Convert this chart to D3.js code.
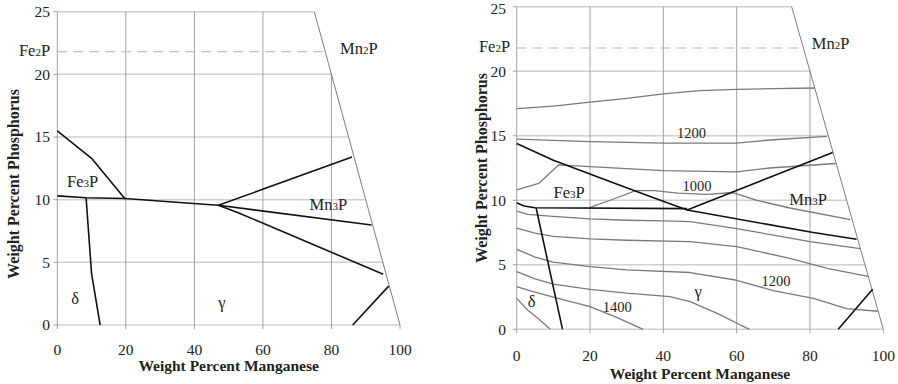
<!DOCTYPE html>
<html>
<head>
<meta charset="utf-8">
<script src="https://cdnjs.cloudflare.com/ajax/libs/d3/7.8.5/d3.min.js"></script>
<style>
  body { margin: 0; background: #fff; }
  svg { display: block; }
  text { font-family: "Liberation Serif", "DejaVu Serif", "Times New Roman", serif; }
  .grid-h { stroke: #d0d0d0; stroke-width: 1.5; fill: none; }
  .grid-v { stroke: #8a8a8a; stroke-width: 0.8; fill: none; }
  .edge { stroke: #6e6e6e; stroke-width: 0.9; fill: none; }
  .tick { stroke: #8a8a8a; stroke-width: 0.8; }
  .fe2p { stroke: #b4b4b4; stroke-width: 1.1; stroke-dasharray: 10 6; fill: none; }
  .phase { stroke: #111; stroke-width: 1.6; fill: none; stroke-linejoin: round; }
  .iso { stroke: #7a7a7a; stroke-width: 1.3; fill: none; stroke-linejoin: round; }
  .tick-label { font-size: 15.5px; fill: #222; }
  .title { font-size: 15.5px; font-weight: bold; fill: #222; }
  .label { font-size: 16.5px; fill: #222; }
  .iso-label { font-size: 14.5px; fill: #222; }
</style>
</head>
<body>
<svg id="chart" width="898" height="384"></svg>
<script>
// axes (weight % Mn across, weight % P up), Mn + P can not pass 100
var mnTicks = [0, 20, 40, 60, 80, 100];
var pTicks = [0, 5, 10, 15, 20, 25];
var fe2pLevel = 21.8;

// left panel: phase boundaries as [Mn, P]
var leftFe3pLine = [[0, 15.5], [10, 13.3], [19.8, 10.05]];
var leftEutectic = [[0, 10.3], [8.4, 10.15], [19.8, 10.1], [39.7, 9.7], [47, 9.55]];
var leftUpperArm = [[47, 9.55], [86, 13.4]];
var leftMn3pArm = [[47, 9.55], [91.7, 7.98]];
var leftLowerArm = [[47, 9.55], [52.8, 8.96], [95.1, 4.05]];
var leftDeltaLine = [[8.4, 10.15], [10, 4.1], [12.5, 0]];
var leftCornerLine = [[86.2, 0], [96.7, 3.1]];

// right panel: same boundaries, slightly different reading
var rightFe3pLine = [[0, 14.4], [10, 13.1], [25.4, 11.45], [36.4, 10.3], [46.5, 9.25]];
var rightEutectic = [[0, 9.8], [2, 9.55], [5, 9.42], [46.5, 9.35]];
var rightUpperArm = [[46.5, 9.25], [86.2, 13.7]];
var rightMn3pArm = [[46.5, 9.25], [80.9, 7.5], [92.7, 6.98]];
var rightDeltaLine = [[5.3, 9.4], [12.5, 0]];
var rightCornerLine = [[87.7, 0], [97.1, 3.1]];

// right panel: isotherms
var iso1 = [[0, 17.1], [10, 17.3], [20, 17.6], [30, 17.9], [40, 18.25], [50, 18.5], [60, 18.6], [70, 18.65], [81.3, 18.7]];
var iso2 = [[0, 14.73], [20, 14.55], [40, 14.42], [60, 14.42], [69, 14.67], [84.6, 14.95]];
var iso3 = [[0, 10.8], [6, 11.3], [11.5, 12.75], [20, 12.6], [40, 12.3], [60, 12.2], [69, 12.5], [87, 12.85]];
var iso4 = [[20, 9.45], [25.5, 10.0], [32.5, 10.75], [37.5, 10.75], [44, 10.55], [52, 10.45], [59, 10.6], [65.5, 10.0], [74.5, 9.4], [91, 8.5]];
var iso5 = [[0, 9.15], [3, 8.9], [10, 8.75], [20, 8.55], [30, 8.45], [40, 8.4], [47.3, 8.34], [60, 7.8], [70, 7.3], [80, 6.8], [93.7, 6.25]];
var iso6 = [[0, 7.85], [5, 7.45], [10, 7.2], [20, 7.0], [30, 6.9], [47.3, 6.8], [60, 6.4], [74.5, 5.5], [85, 4.7], [95.9, 4.1]];
var iso7 = [[0, 6.2], [5, 5.6], [10, 5.2], [20, 4.85], [30, 4.6], [47.3, 4.4], [60, 3.8], [70, 3.0], [80.9, 2.4], [90, 1.6], [98.5, 1.4]];
var iso8 = [[0, 4.47], [5, 3.9], [10, 3.5], [20, 3.1], [30, 2.8], [41.8, 2.53], [47.3, 2.14], [55, 1.2], [61, 0.33], [63.5, 0]];
var iso9 = [[0, 3.3], [4, 2.95], [10, 2.5], [20, 1.75], [27.4, 0.9], [34.5, 0]];
var iso10 = [[0, 2.4], [3, 1.5], [6, 0.8], [9.2, 0]];

// labels: [text, Mn, P, anchor]
var leftLabels = [
  ['Fe2P', -2.1, 21.9, 'end'], ['Mn2P', 82.5, 22.1, 'start'],
  ['Fe3P', 7.4, 11.45, 'middle'], ['Mn3P', 79.1, 9.65, 'middle'],
  ['δ', 5.2, 2.15, 'middle'], ['γ', 48, 1.85, 'middle']
];
var rightLabels = [
  ['Fe2P', -1.8, 21.9, 'end'], ['Mn2P', 80.5, 22.2, 'start'],
  ['Fe3P', 14.3, 10.65, 'middle'], ['Mn3P', 79.5, 10.1, 'middle'],
  ['δ', 4.1, 2.15, 'middle'], ['γ', 49.5, 2.95, 'middle']
];
var isoLabels = [
  ['1200', 47.7, 15.25], ['1000', 49.2, 11.1],
  ['1400', 27.4, 1.75], ['1200', 70.7, 3.75]
];

var svg = d3.select('#chart');

var drawPanel = function(opts) {
  var g = svg.append('g');
  var x = d3.scaleLinear().domain([0, 100]).range(opts.xRange);
  var y = d3.scaleLinear().domain([0, 25]).range(opts.yRange);
  var edgeMn = function(p) { return Math.min(100, 100 - p); };
  var edgeP = function(mn) { return Math.min(25, 100 - mn); };
  var line = d3.line()
    .x(function(d) { return x(d[0]); })
    .y(function(d) { return y(d[1]); });

  // grid, clipped to the Mn + P = 100 edge
  g.selectAll('.grid-h')
    .data(pTicks)
    .enter().append('line')
    .attr('class', 'grid-h')
    .attr('x1', x(0)).attr('x2', function(p) { return x(edgeMn(p)); })
    .attr('y1', function(p) { return y(p); }).attr('y2', function(p) { return y(p); });

  g.selectAll('.grid-v')
    .data(mnTicks.slice(0, 5))
    .enter().append('line')
    .attr('class', 'grid-v')
    .attr('x1', function(m) { return x(m); }).attr('x2', function(m) { return x(m); })
    .attr('y1', y(0)).attr('y2', function(m) { return y(edgeP(m)); });

  g.append('path')
    .attr('class', 'edge')
    .attr('d', line([[75, 25], [100, 0]]));

  g.selectAll('.tick-y')
    .data(pTicks)
    .enter().append('line')
    .attr('class', 'tick')
    .attr('x1', x(0) - 4).attr('x2', x(0))
    .attr('y1', function(p) { return y(p); }).attr('y2', function(p) { return y(p); });

  g.selectAll('.tick-x')
    .data(mnTicks)
    .enter().append('line')
    .attr('class', 'tick')
    .attr('x1', function(m) { return x(m); }).attr('x2', function(m) { return x(m); })
    .attr('y1', y(0)).attr('y2', y(0) + 4);

  g.append('path')
    .attr('class', 'fe2p')
    .attr('d', line([[0, fe2pLevel], [edgeMn(fe2pLevel), fe2pLevel]]));

  // keep the top label inside the page
  g.selectAll('.tl-y')
    .data(pTicks)
    .enter().append('text')
    .attr('class', 'tick-label')
    .attr('text-anchor', 'end')
    .attr('x', opts.yLabelX)
    .attr('y', function(p) { return Math.max(y(p), 9); })
    .attr('dy', '0.35em')
    .text(function(p) { return p; });

  g.selectAll('.tl-x')
    .data(mnTicks)
    .enter().append('text')
    .attr('class', 'tick-label')
    .attr('text-anchor', 'middle')
    .attr('x', function(m) { return x(m); })
    .attr('y', opts.xLabelY)
    .attr('dy', '0.35em')
    .text(function(m) { return m; });

  g.append('text')
    .attr('class', 'title')
    .attr('text-anchor', 'middle')
    .attr('x', (x(0) + x(100)) / 2)
    .attr('y', opts.xTitleY)
    .attr('dy', '0.35em')
    .text('Weight Percent Manganese');

  g.append('text')
    .attr('class', 'title')
    .attr('text-anchor', 'middle')
    .attr('transform', 'translate(' + opts.yTitle[0] + ',' + opts.yTitle[1] + ') rotate(-90)')
    .attr('dy', '0.35em')
    .style('font-size', '16px')
    .text('Weight Percent Phosphorus');

  (opts.isotherms || []).forEach(function(d) {
    g.append('path').attr('class', 'iso').attr('d', line(d));
  });

  opts.phases.forEach(function(d) {
    g.append('path').attr('class', 'phase').attr('d', line(d));
  });

  // formula labels: digits become small subscripts
  opts.labels.forEach(function(l) {
    var t = g.append('text')
      .attr('class', 'label')
      .attr('text-anchor', l[3])
      .attr('x', x(l[1]))
      .attr('y', y(l[2]))
      .attr('dy', '0.35em');
    l[0].split(/(\d)/).forEach(function(part) {
      if (!part) return;
      var s = t.append('tspan').text(part);
      if (/\d/.test(part)) s.style('font-size', '11px');
    });
  });

  (opts.isoLabels || []).forEach(function(l) {
    g.append('text')
      .attr('class', 'iso-label')
      .attr('text-anchor', 'middle')
      .attr('x', x(l[1]))
      .attr('y', y(l[2]))
      .attr('dy', '0.35em')
      .text(l[0]);
  });
};

drawPanel({
  xRange: [57.3, 400],
  yRange: [325, 11.7],
  yLabelX: 50,
  xLabelY: 350,
  xTitleY: 366,
  yTitle: [13, 184],
  phases: [leftFe3pLine, leftEutectic, leftUpperArm, leftMn3pArm, leftLowerArm, leftDeltaLine, leftCornerLine],
  labels: leftLabels
});

drawPanel({
  xRange: [516.7, 883.3],
  yRange: [329.3, 6.7],
  yLabelX: 506,
  xLabelY: 355.7,
  xTitleY: 373.5,
  yTitle: [481, 168],
  isotherms: [iso1, iso2, iso3, iso4, iso5, iso6, iso7, iso8, iso9, iso10],
  phases: [rightFe3pLine, rightEutectic, rightUpperArm, rightMn3pArm, rightDeltaLine, rightCornerLine],
  labels: rightLabels,
  isoLabels: isoLabels
});
</script>
</body>
</html>
